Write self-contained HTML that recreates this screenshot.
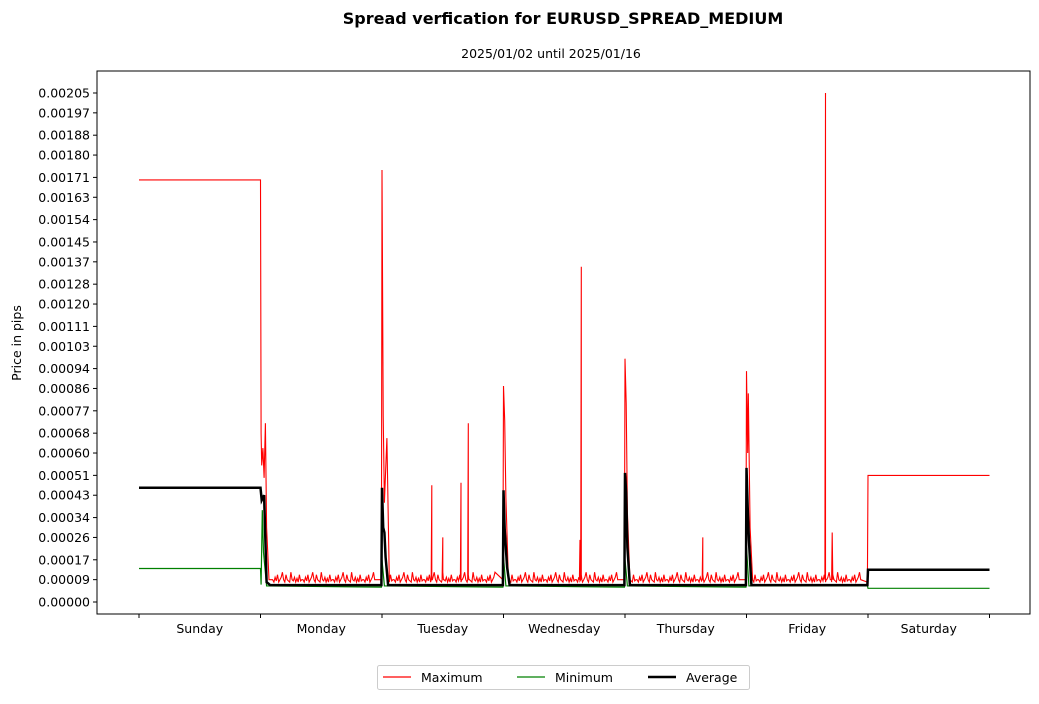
<!DOCTYPE html>
<html><head><meta charset="utf-8"><style>
body{margin:0;background:#fff;font-family:"DejaVu Sans",sans-serif}
</style></head><body>
<svg id="c" width="1039" height="700" xmlns="http://www.w3.org/2000/svg" font-family="DejaVu Sans, sans-serif">
<text x="563" y="24" text-anchor="middle" font-size="16" font-weight="bold">Spread verfication for EURUSD_SPREAD_MEDIUM</text>
<text x="551" y="58" text-anchor="middle" font-size="12.5">2025/01/02 until 2025/01/16</text>
<text transform="translate(21,343) rotate(-90)" text-anchor="middle" font-size="12.5">Price in pips</text>
<g id="plot"></g>
<rect x="97" y="71" width="933" height="543" fill="none" stroke="#000" stroke-width="1"/>
<g>
<rect x="377.500" y="665.500" width="372" height="24" fill="#fff" stroke="#ccc" rx="2"/>
<g><line x1="383" y1="677" x2="411" y2="677" stroke="red" stroke-width="1.2"/><text x="421" y="682" font-size="12.5">Maximum</text></g>
<g><line x1="517" y1="677" x2="545" y2="677" stroke="green" stroke-width="1.2"/><text x="555" y="682" font-size="12.5">Minimum</text></g>
<g><line x1="648" y1="677" x2="676" y2="677" stroke="#000" stroke-width="2.5"/><text x="686" y="682" font-size="12.5">Average</text></g>
</g>
</svg>
<script>
const days=["Sunday","Monday","Tuesday","Wednesday","Thursday","Friday","Saturday"];
const yTicks=[0,0.00009,0.00017,0.00026,0.00034,0.00043,0.00051,0.00060,0.00068,0.00077,0.00086,0.00094,0.00103,0.00111,0.00120,0.00128,0.00137,0.00145,0.00154,0.00163,0.00171,0.00180,0.00188,0.00197,0.00205];
const maxNoise=[9,8,10,8.5,11,8,9,10,12,9,8,11,9,8.5,8,12,9,8.5,10,8,9.5,8,11,8.5,9];
const maxSeries=[[0,170],[1,170],[1.005,68],[1.01,55],[1.02,62],[1.03,50],[1.04,72],[1.05,30],[1.07,9],
[1.995,9],[2,174],[2.01,75],[2.02,40],[2.04,66],[2.06,9],[2.405,9],[2.41,47],[2.415,9],[2.495,9],[2.5,26],[2.505,9],[2.645,9],[2.65,48],[2.655,9],[2.705,9],[2.71,72],[2.715,9],
[2.995,9],[3,87],[3.01,73],[3.02,42],[3.04,9],[3.625,9],[3.63,25],[3.635,9],[3.64,135],[3.645,9],
[3.995,9],[4,98],[4.01,80],[4.02,36],[4.04,9],[4.635,9],[4.64,26],[4.645,9],
[4.995,9],[5,93],[5.01,60],[5.015,84],[5.03,30],[5.05,9],[5.645,9],[5.65,205],[5.655,9],[5.7,9],[5.705,28],[5.71,9],
[5.995,8],[6,51],[7,51]];
const minSeries=[[0,13.5],[1,13.5],[1.005,7],[1.015,37],[1.025,20],[1.05,6.5],[1.995,6],[2.0,17],[2.02,6.5],[2.995,6],[3,18],[3.02,6.5],[3.995,6],[4,17],[4.02,6.5],[4.995,6],[5,22],[5.02,6.5],[5.995,6.5],[6,5.5],[7,5.5]];
const avgSeries=[[0,46],[1,46],[1.01,41],[1.03,43],[1.05,8],[1.08,6.8],[1.995,6.8],[2,46],[2.01,30],[2.02,28],[2.03,18],[2.05,6.8],[2.995,6.8],[3,45],[3.01,29],[3.03,14],[3.05,6.8],[3.995,6.8],[4,52],[4.01,44],[4.02,22],[4.04,6.8],[4.995,6.8],[5,54],[5.01,38],[5.02,25],[5.04,6.8],[5.995,6.8],[6,13],[7,13]];
const X=d=>139+d*121.5, Y=v=>602-v*2.483;
const svg=document.getElementById('c'),plot=document.getElementById('plot'),NS="http://www.w3.org/2000/svg";
function mk(t,a){const e=document.createElementNS(NS,t);for(const k in a)e.setAttribute(k,a[k]);return e;}
yTicks.forEach(v=>{const y=Y(v*1e5);
const l=mk('line',{x1:93,x2:97,y1:y,y2:y,stroke:'#000'});svg.appendChild(l);
const t=mk('text',{x:90,y:y+4.5,'text-anchor':'end','font-size':12.5});t.textContent=v.toFixed(5);svg.appendChild(t);});
for(let i=0;i<=7;i++){const l=mk('line',{x1:X(i),x2:X(i),y1:614,y2:618,stroke:'#000'});svg.appendChild(l);}
days.forEach((d,i)=>{const t=mk('text',{x:X(i+0.5),y:633,'text-anchor':'middle','font-size':12.5});t.textContent=d;svg.appendChild(t);});
let pts=[];maxSeries.forEach(p=>pts.push(p));
for(let k=0;k<485;k++){const d=1.1+k*0.01;if(Math.abs(d-Math.round(d))<0.06)continue;pts.push([d,maxNoise[k%maxNoise.length]]);}
pts.sort((a,b)=>a[0]-b[0]);
function path(arr,col,w,name){const p=mk('path',{d:arr.map((q,i)=>(i?'L':'M')+X(q[0]).toFixed(1)+' '+Y(q[1]).toFixed(1)).join(''),fill:'none',stroke:col,'stroke-width':w});plot.appendChild(p);}
path(pts,'red',1.1,'series-maximum');
path(minSeries,'green',1.2,'series-minimum');
path(avgSeries,'#000',2.5,'series-average');
</script>
</body></html>
